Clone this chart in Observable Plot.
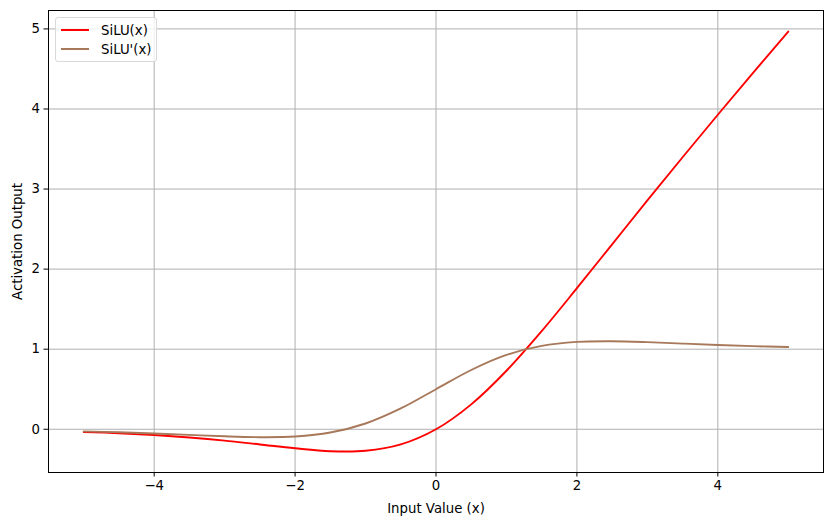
<!DOCTYPE html>
<html>
<head>
<meta charset="utf-8">
<script src="https://cdn.jsdelivr.net/npm/d3@7"></script>
<script src="https://cdn.jsdelivr.net/npm/@observablehq/plot@0.6"></script>
<style>
  html, body { margin: 0; padding: 0; background: #fff; }
  #wrap { position: relative; width: 833px; height: 525px; font-family: "DejaVu Sans", sans-serif; }
  #legend { position: absolute; left: 55px; top: 17px; width: 102px; height: 45px; box-sizing: border-box;
    border: 1px solid #d9d9d9; border-radius: 3px; background: rgba(255,255,255,0.8); font-size: 13.3px; color: #000; }
  .item { position: absolute; left: 5px; height: 18px; display: flex; align-items: center; }
  .sw { width: 28px; height: 0; border-top: 2px solid; margin-right: 12px; }
</style>
</head>
<body>
<div id="wrap"><div id="chart"></div>
<div id="legend"></div></div>
<script>
const xs      = [-5, -4.5, -4, -3.5, -3, -2.5, -2, -1.5, -1, -0.5, 0, 0.5, 1, 1.5, 2, 2.5, 3, 3.5, 4, 4.5, 5];
const silu    = [-0.034, -0.049, -0.072, -0.103, -0.142, -0.190, -0.238, -0.274, -0.269, -0.189, 0, 0.311, 0.731, 1.226, 1.762, 2.310, 2.858, 3.397, 3.928, 4.451, 4.967];
const siluD   = [-0.027, -0.038, -0.053, -0.070, -0.088, -0.099, -0.091, -0.041, 0.072, 0.260, 0.5, 0.740, 0.928, 1.041, 1.091, 1.099, 1.088, 1.070, 1.053, 1.038, 1.027];
const seriesNames = ["SiLU(x)", "SiLU'(x)"];
const colors = ["#ff0000", "#a8785a"];
const xTicks = [-4, -2, 0, 2, 4];
const yTicks = [0, 1, 2, 3, 4, 5];

const data = [];
xs.forEach((x, i) => {
  data.push({x, y: silu[i], s: seriesNames[0]});
  data.push({x, y: siluD[i], s: seriesNames[1]});
});

const chart = Plot.plot({
  width: 833,
  height: 525,
  marginLeft: 48,
  marginRight: 10,
  marginTop: 10,
  marginBottom: 53,
  style: { fontFamily: "DejaVu Sans, sans-serif", fontSize: "13.3px", color: "#000", background: "#fff" },
  x: { domain: [-5.5, 5.5] },
  y: { domain: [-0.54, 5.23] },
  color: { domain: seriesNames, range: colors },
  marks: [
    Plot.gridX(xTicks, { stroke: "#b0b0b0", strokeOpacity: 1, strokeWidth: 1 }),
    Plot.gridY(yTicks, { stroke: "#b0b0b0", strokeOpacity: 1, strokeWidth: 1 }),
    Plot.line(data, { x: "x", y: "y", stroke: "s", z: "s", strokeWidth: 1.9, curve: "catmull-rom" }),
    Plot.frame({ stroke: "#000", strokeWidth: 1 }),
    Plot.axisX(xTicks, { tickSize: 4.5, tickPadding: 4, tickFormat: d3.format("d"), label: "Input Value (x)", labelAnchor: "center", labelArrow: "none", labelOffset: 40, fontSize: 13.3 }),
    Plot.axisY(yTicks, { tickSize: 4.5, tickPadding: 4, tickFormat: d3.format("d"), label: "Activation Output", labelAnchor: "center", labelArrow: "none", labelOffset: 36, fontSize: 13.3 })
  ]
});
document.getElementById("chart").appendChild(chart);

const leg = document.getElementById("legend");
seriesNames.forEach((name, i) => {
  const it = document.createElement("div");
  it.className = "item";
  it.style.top = (3 + i * 19) + "px";
  it.innerHTML = `<span class="sw" style="border-color:${colors[i]}"></span><span>${name}</span>`;
  leg.appendChild(it);
});
</script>
</body>
</html>
